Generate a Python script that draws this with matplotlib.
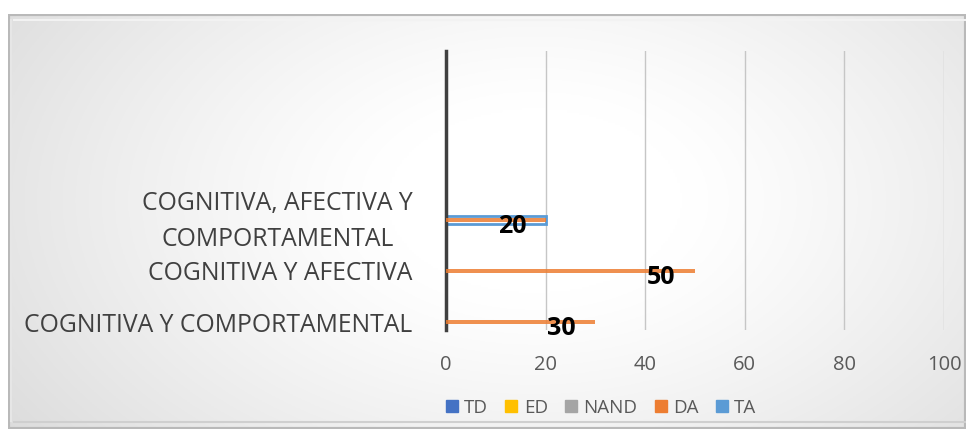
import numpy as np
import matplotlib
matplotlib.use("Agg")
import matplotlib.pyplot as plt
import matplotlib.transforms as mtransforms
from matplotlib.patches import Rectangle
from matplotlib.lines import Line2D

# Data
categories = ["COGNITIVA Y COMPORTAMENTAL", "COGNITIVA Y AFECTIVA",
              "COGNITIVA, AFECTIVA Y\nCOMPORTAMENTAL"]
series_names = ["TD", "ED", "NAND", "DA", "TA"]
series_colors = ["#4472C4", "#FFC000", "#A5A5A5", "#ED7D31", "#5B9BD5"]
da_values = [30, 50, 20]
ta_values = [0, 0, 20]
x_ticks = [0, 20, 40, 60, 80, 100]

W, H = 966, 429
fig = plt.figure(figsize=(W / 100, H / 100), dpi=100)
fig.patch.set_facecolor("white")

# Chart area background: soft gradient, light gray at the edges, white in the middle
bg = fig.add_axes([8 / W, 0, 1 - 8 / W, 1 - 14 / H])
bg.set_axis_off()
yy, xx = np.mgrid[0:1:200j, 0:1:400j]
d = np.sqrt(((xx - 0.55) / 0.62) ** 2 + ((yy - 0.55) / 0.9) ** 2)
shade = 1.0 - 0.17 * np.clip(d - 0.25, 0, 1) ** 1.2
img = np.dstack([shade, shade, shade])
bg.imshow(img, extent=[0, 1, 0, 1], aspect="auto", origin="lower")
bg.set_xlim(0, 1)
bg.set_ylim(0, 1)
# bevel border
bg.add_patch(Rectangle((0, 0), 1, 1, fill=False, edgecolor="#b9b9b9", lw=3,
                       transform=bg.transAxes))
bg.plot([0.003, 0.003], [0.02, 0.985], color="#e6e6e6", lw=1.5)
bg.plot([0.006, 1], [0.985, 0.985], color="#f2f2f2", lw=1.5)
bg.plot([0.006, 1], [0.018, 0.018], color="#cfcfcf", lw=1.5)

# Plot area
x0, x1 = 446, 944
y_top, y_bot = 51, 330
ax = fig.add_axes([x0 / W, 1 - y_bot / H, (x1 - x0) / W, (y_bot - y_top) / H])
ax.patch.set_alpha(0)
ax.set_xlim(0, 100)
# 51 px per category step, bottom category centred at y=322 px
ppu = 51.0
ax.set_ylim(-(y_bot - 322) / ppu, (322 - y_top) / ppu)

for t in x_ticks[1:]:
    ax.axvline(t, color="#c6c6c6", lw=1.0, zorder=0)

ypos = np.arange(len(categories))
bar_h = 4.5 / ppu

# TA series (blue outlined bar) then DA series (orange)
ta_h = 8.5 / ppu
for y, v in zip(ypos, ta_values):
    if v > 0:
        ax.barh(y, v, height=ta_h, color="none", edgecolor=series_colors[4],
                linewidth=2.0, zorder=2)
ax.barh(ypos, da_values, height=bar_h, color=series_colors[3], alpha=0.85,
        linewidth=0, zorder=3)

# value labels
for y, v in zip(ypos, da_values):
    ax.annotate(str(v), xy=(v, y), xytext=(-14, -5), textcoords="offset points",
                ha="right", va="center", fontsize=18, fontweight="bold",
                color="black", family="Open Sans", zorder=5)

for s in ["top", "right", "bottom"]:
    ax.spines[s].set_visible(False)
ax.spines["left"].set_color("#404040")
ax.spines["left"].set_linewidth(2.5)

ax.set_xticks(x_ticks)
ax.set_xticklabels([str(t) for t in x_ticks])
ax.tick_params(axis="x", length=0, pad=18, labelsize=14.5, labelcolor="#595959")
ax.set_yticks(ypos)
ax.set_yticklabels(categories, multialignment="center", linespacing=1.6)
ax.tick_params(axis="y", length=0, pad=24, labelsize=17.8, labelcolor="#404040")
for lab in ax.get_xticklabels() + ax.get_yticklabels():
    lab.set_family("Open Sans")
# two-line category label sits a little above its bar
up = mtransforms.ScaledTranslation(0, 7 / 100, fig.dpi_scale_trans)
ylabs = ax.get_yticklabels()
ylabs[2].set_transform(ylabs[2].get_transform() + up)

# Legend
handles = [Line2D([], [], marker="s", linestyle="none", markersize=8,
                  markerfacecolor=c, markeredgecolor=c) for c in series_colors]
fig.legend(handles, series_names, loc="center", bbox_to_anchor=(598 / W, 1 - 408 / H),
           ncol=5, frameon=False, handletextpad=0.0, columnspacing=0.6,
           handlelength=1.3,
           prop={"family": "Open Sans", "size": 13.5}, labelcolor="#595959")

fig.savefig("out.png", dpi=100, facecolor="white")
